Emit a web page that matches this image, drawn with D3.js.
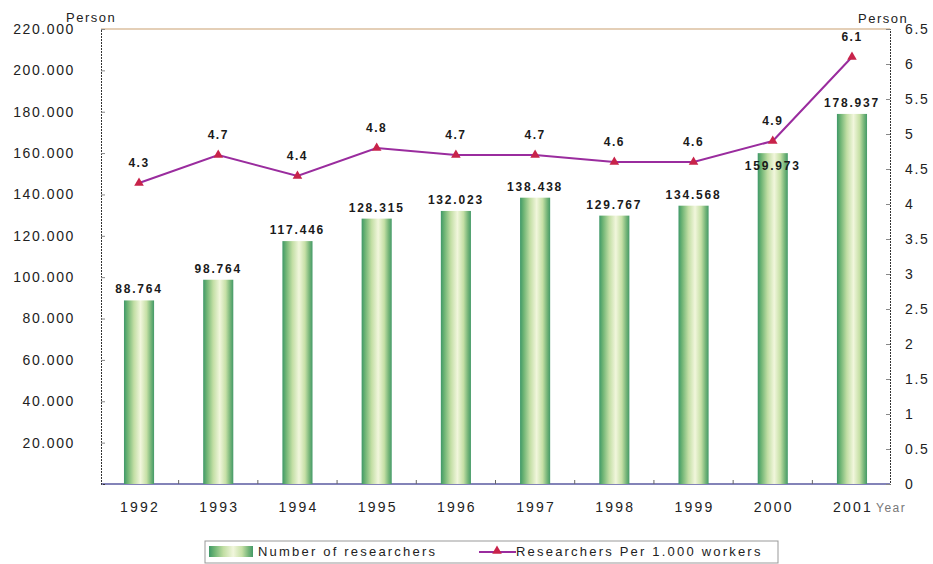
<!DOCTYPE html>
<html>
<head>
<meta charset="utf-8">
<script src="https://cdn.jsdelivr.net/npm/d3@7"></script>
<style>
  body { margin: 0; background: #fff; }
  text { font-family: "Liberation Sans", Arial, sans-serif; }
</style>
</head>
<body>
<svg id="chart" width="933" height="564"></svg>
<script>
// Researchers in the country, 1992–2001
const years = ["1992","1993","1994","1995","1996","1997","1998","1999","2000","2001"];
const researchers = [88764, 98764, 117446, 128315, 132023, 138438, 129767, 134568, 159973, 178937];
const perThousand = [4.3, 4.7, 4.4, 4.8, 4.7, 4.7, 4.6, 4.6, 4.9, 6.1];
const leftTicks = [20000, 40000, 60000, 80000, 100000, 120000, 140000, 160000, 180000, 200000, 220000];
const rightTicks = [0, 0.5, 1, 1.5, 2, 2.5, 3, 3.5, 4, 4.5, 5, 5.5, 6, 6.5];
const legendLabels = ["Number of researchers", "Researchers Per 1.000 workers"];

const svg = d3.select("#chart");
const m = { left: 101, right: 890, top: 29, bottom: 484 };

const loc = d3.formatLocale({ decimal: ",", thousands: ".", grouping: [3], currency: ["", ""] });
const fmtThousands = loc.format(",d");
const fmtLeft = v => loc.format(",.3f")(v / 1000).replace(",", ".");

const x = d3.scaleBand().domain(years).range([m.left, m.right]).paddingInner(0.62).paddingOuter(0.29);
const yL = d3.scaleLinear().domain([0, 220000]).range([m.bottom, m.top]);
const yR = d3.scaleLinear().domain([0, 6.5]).range([m.bottom, m.top]);

// Cylinder shading for the bars
const defs = svg.append("defs");
const grad = defs.append("linearGradient").attr("id", "barGrad").attr("x1", "0").attr("x2", "1").attr("y1", "0").attr("y2", "0");
[[0, "#3f9868"], [0.12, "#6eb474"], [0.33, "#c2dea4"], [0.55, "#f1f6dc"], [0.75, "#c6e0a6"], [0.9, "#74b478"], [1, "#449a68"]]
  .forEach(([o, c]) => grad.append("stop").attr("offset", o).attr("stop-color", c));

// Plot frame
svg.append("line").attr("x1", m.left).attr("x2", m.right).attr("y1", m.top).attr("y2", m.top)
  .attr("stroke", "#c9a070").attr("stroke-width", 1.2);
svg.append("line").attr("x1", m.left).attr("x2", m.right).attr("y1", m.bottom).attr("y2", m.bottom)
  .attr("stroke", "#5a5aa0").attr("stroke-width", 1.3);

// Left axis
const axL = svg.append("g").attr("transform", `translate(${m.left},0)`)
  .call(d3.axisRight(yL).tickValues(leftTicks).tickSize(4).tickFormat(""));
axL.select(".domain").attr("stroke", "#333").attr("stroke-dasharray", "2,1");
axL.selectAll(".tick line").attr("stroke", "#888");
svg.append("g").selectAll("text").data(leftTicks).join("text")
  .attr("x", 75).attr("y", d => yL(d)).attr("dy", "0.35em").attr("text-anchor", "end")
  .attr("font-size", 14).attr("letter-spacing", 1.6).attr("fill", "#222")
  .text(d => fmtLeft(d));
svg.append("text").attr("x", 66).attr("y", 22).attr("font-size", 13).attr("letter-spacing", 1.5).attr("fill", "#222").text("Person");

// Right axis
const axR = svg.append("g").attr("transform", `translate(${m.right},0)`)
  .call(d3.axisLeft(yR).tickValues(rightTicks).tickSize(4).tickFormat(""));
axR.select(".domain").attr("stroke", "#333").attr("stroke-dasharray", "2,1");
axR.selectAll(".tick line").attr("stroke", "#888");
svg.append("g").selectAll("text").data(rightTicks).join("text")
  .attr("x", 905).attr("y", d => yR(d)).attr("dy", "0.35em")
  .attr("font-size", 14).attr("letter-spacing", 1.6).attr("fill", "#222")
  .text(d => String(d));
svg.append("text").attr("x", 858).attr("y", 23).attr("font-size", 13).attr("letter-spacing", 1.5).attr("fill", "#222").text("Person");

// Bottom axis labels and ticks between categories
svg.append("g").selectAll("line").data(years.slice(1)).join("line")
  .attr("x1", d => x(d) - x.step() * x.paddingInner() / 2).attr("x2", d => x(d) - x.step() * x.paddingInner() / 2)
  .attr("y1", m.bottom).attr("y2", m.bottom - 4).attr("stroke", "#666");
svg.append("g").selectAll("text").data(years).join("text")
  .attr("x", d => x(d) + x.bandwidth() / 2 + 1).attr("y", 512).attr("text-anchor", "middle")
  .attr("font-size", 14).attr("letter-spacing", 2.2).attr("fill", "#222").text(d => d);
svg.append("text").attr("x", 876).attr("y", 512).attr("font-size", 12).attr("letter-spacing", 1.5).attr("fill", "#777").text("Year");

// Bars
const cx = i => x(years[i]) + x.bandwidth() / 2;
svg.append("g").selectAll("rect").data(researchers).join("rect")
  .attr("x", (d, i) => x(years[i])).attr("width", x.bandwidth())
  .attr("y", d => yL(d)).attr("height", d => m.bottom - yL(d))
  .attr("fill", "url(#barGrad)");
// Value labels sit above each bar, or just inside its top when the line marker is in the way
svg.append("g").selectAll("text").data(researchers).join("text")
  .attr("x", (d, i) => cx(i))
  .attr("y", (d, i) => Math.abs(yL(d) - 7 - yR(perThousand[i])) < 16 ? yL(d) + 17 : yL(d) - 7)
  .attr("text-anchor", "middle").attr("font-size", 12).attr("font-weight", "bold")
  .attr("letter-spacing", 1.8).attr("fill", "#1a1a1a").text(d => fmtThousands(d));

// Line series
svg.append("path").datum(perThousand)
  .attr("d", d3.line().x((d, i) => cx(i)).y(d => yR(d)))
  .attr("fill", "none").attr("stroke", "#9a2c9e").attr("stroke-width", 2);
svg.append("g").selectAll("path").data(perThousand).join("path")
  .attr("transform", (d, i) => `translate(${cx(i)},${yR(d)})`)
  .attr("d", d3.symbol(d3.symbolTriangle, 40)).attr("fill", "#c8234a");
svg.append("g").selectAll("text").data(perThousand).join("text")
  .attr("x", (d, i) => cx(i)).attr("y", d => yR(d) - 16)
  .attr("text-anchor", "middle").attr("font-size", 12).attr("font-weight", "bold")
  .attr("letter-spacing", 1.5).attr("fill", "#1a1a1a").text(d => d.toFixed(1));

// Legend
const lg = svg.append("g");
lg.append("rect").attr("x", 205).attr("y", 541).attr("width", 573).attr("height", 22)
  .attr("fill", "#fff").attr("stroke", "#999");
lg.append("rect").attr("x", 209).attr("y", 546).attr("width", 44).attr("height", 11).attr("fill", "url(#barGrad)");
lg.append("text").attr("x", 258).attr("y", 556).attr("font-size", 13).attr("letter-spacing", 2.2).attr("fill", "#222").text(legendLabels[0]);
lg.append("line").attr("x1", 479).attr("x2", 516).attr("y1", 552).attr("y2", 552).attr("stroke", "#9a2c9e").attr("stroke-width", 2);
lg.append("path").attr("transform", "translate(497,551)").attr("d", d3.symbol(d3.symbolTriangle, 40)).attr("fill", "#c8234a");
lg.append("text").attr("x", 516).attr("y", 556).attr("font-size", 13).attr("letter-spacing", 2.2).attr("fill", "#222").text(legendLabels[1]);
</script>
</body>
</html>
